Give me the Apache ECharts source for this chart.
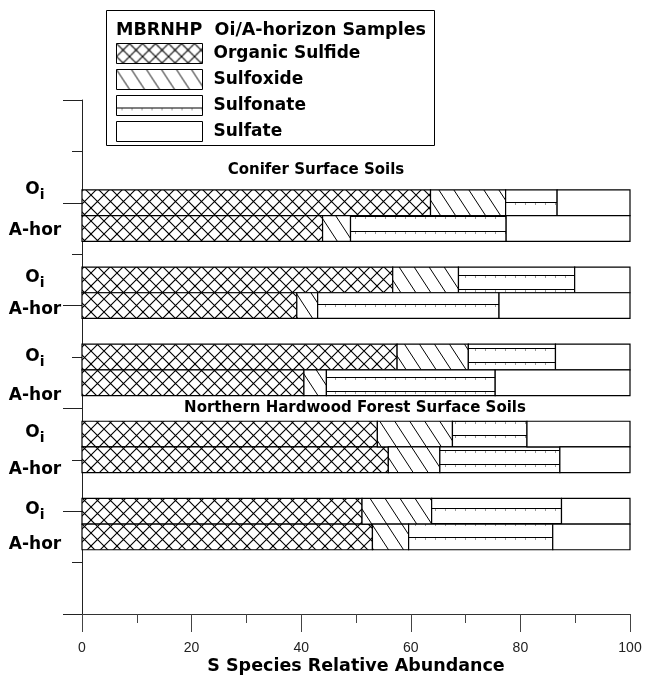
<!DOCTYPE html>
<html><head><meta charset="utf-8">
<script src="https://cdn.jsdelivr.net/npm/echarts@6/dist/echarts.min.js"></script>
<style>html,body{margin:0;padding:0;background:#fff}#c{width:645px;height:675px}</style>
</head><body><div id="c"></div>
<script>
// ---- data ----
const sampleLabels = ['Oi','A-hor','Oi','A-hor','Oi','A-hor','Oi','A-hor','Oi','A-hor'];
const speciesNames = ['Organic Sulfide','Sulfoxide','Sulfonate','Sulfate'];
const organicSulfide = [63.6, 43.9, 56.7, 39.2, 57.5, 40.5, 53.9, 55.9, 51.1, 53.0];
const sulfoxide      = [13.7,  5.1, 12.0,  3.8, 13.0,  4.1, 13.7,  9.4, 12.7,  6.6];
const sulfonate      = [ 9.4, 28.4, 21.2, 33.1, 15.9, 30.8, 13.6, 21.9, 23.7, 26.3];
const sulfate        = [13.3, 22.6, 10.1, 23.9, 13.6, 24.6, 18.8, 12.8, 12.5, 14.1];
const xTickLabels = [0, 20, 40, 60, 80, 100];
const legendTitle = 'MBRNHP  Oi/A-horizon Samples';
const groupTitles = ['Conifer Surface Soils', 'Northern Hardwood Forest Surface Soils'];
const xAxisTitle = 'S Species Relative Abundance';

// ---- patterns ----
function mk(w, h, draw) {
  const c = document.createElement('canvas'); c.width = w; c.height = h;
  const g = c.getContext('2d'); g.fillStyle = '#fff'; g.fillRect(0, 0, w, h);
  draw(g); return c;
}
const patCross = mk(26, 26, g => {
  g.strokeStyle = '#000'; g.lineWidth = 1.1; g.beginPath();
  for (let k = -2; k <= 2; k++) {
    g.moveTo(k * 13, 0); g.lineTo(k * 13 + 26, 26);
    g.moveTo(k * 13 + 26, 0); g.lineTo(k * 13, 26);
  }
  g.stroke();
});
const patDiag = mk(15, 23, g => {
  g.strokeStyle = '#000'; g.lineWidth = 1; g.beginPath();
  for (let k = -1; k <= 1; k++) { g.moveTo(k * 15, 0); g.lineTo(k * 15 + 15, 23); }
  g.stroke();
});
const patHoriz = mk(10, 73, g => {
  [12, 26, 41, 56, 70].forEach(y => {
    g.strokeStyle = '#000'; g.lineWidth = 1; g.beginPath();
    g.moveTo(0, y + 0.5); g.lineTo(10, y + 0.5); g.stroke();
    g.strokeStyle = '#999'; g.beginPath();
    g.moveTo(5.5, y + 1); g.lineTo(5.5, y + 3); g.stroke();
  });
});
const patterns = [
  { image: patCross, repeat: 'repeat' },
  { image: patDiag, repeat: 'repeat' },
  { image: patHoriz, repeat: 'repeat' },
  '#ffffff'
];

// ---- build ----
const speciesValues = [organicSulfide, sulfoxide, sulfonate, sulfate];
const rowY = i => 8 - 1.5 * Math.floor(i / 2) - 0.5 * (i % 2);
const BAR_H = 0.5;
const cum = sampleLabels.map(() => 0);
const series = speciesValues.map((vals, s) => {
  const data = vals.map((v, i) => { const st = cum[i]; cum[i] += v; return [st, cum[i], rowY(i)]; });
  return {
    type: 'custom', name: speciesNames[s], silent: true,
    itemStyle: { color: patterns[s], borderColor: '#000', borderWidth: 1 },
    encode: { x: [0, 1], y: 2 },
    data,
    renderItem: (params, api) => {
      const p0 = api.coord([api.value(0), api.value(2) + BAR_H / 2]);
      const p1 = api.coord([api.value(1), api.value(2) - BAR_H / 2]);
      return { type: 'rect',
        shape: { x: p0[0], y: p0[1], width: p1[0] - p0[0], height: p1[1] - p0[1] },
        style: { fill: patterns[s], stroke: '#000', lineWidth: 1.2 } };
    }
  };
});

const BOLD = 'DejaVu Sans';
const labelY = [190, 231, 278, 310, 357, 396, 433, 470, 510, 545];
const graphic = [
  { type: 'rect', shape: { x: 106.5, y: 10.5, width: 328, height: 135 }, style: { fill: 'none', stroke: '#000', lineWidth: 1 }, z: 1 },
  { type: 'text', x: 316, y: 170, style: { text: groupTitles[0], fontFamily: BOLD, fontWeight: 'bold', fontSize: 15, fill: '#000', align: 'center', verticalAlign: 'middle' } },
  { type: 'text', x: 355, y: 408, style: { text: groupTitles[1], fontFamily: BOLD, fontWeight: 'bold', fontSize: 15, fill: '#000', align: 'center', verticalAlign: 'middle' } }
];
sampleLabels.forEach((lab, i) => {
  const isOi = lab === 'Oi';
  graphic.push({ type: 'text', x: 35, y: labelY[i], style: {
    text: isOi ? '{a|O}{b|i}' : lab,
    fontFamily: BOLD, fontWeight: 'bold', fontSize: 17, fill: '#000', align: 'center', verticalAlign: 'middle',
    rich: { a: { fontFamily: BOLD, fontWeight: 'bold', fontSize: 17, lineHeight: 24, verticalAlign: 'middle' },
            b: { fontFamily: BOLD, fontWeight: 'bold', fontSize: 14, lineHeight: 14, verticalAlign: 'bottom' } }
  } });
});

const chart = echarts.init(document.getElementById('c'), null, { renderer: 'canvas' });
chart.setOption({
  animation: false,
  backgroundColor: '#fff',
  title: { text: legendTitle, left: 116, top: 21, padding: 0,
    textStyle: { fontFamily: BOLD, fontWeight: 'bold', fontSize: 17.5, color: '#000' } },
  legend: { orient: 'vertical', left: 116, top: 43, padding: 0, itemWidth: 86, itemHeight: 20, itemGap: 5,
    icon: 'rect', selectedMode: false, data: speciesNames,
    itemStyle: { borderColor: '#000', borderWidth: 1 },
    textStyle: { fontFamily: BOLD, fontWeight: 'bold', fontSize: 17, color: '#000', lineHeight: 20, padding: [0, 0, 0, 6] } },
  grid: { left: 82, right: 15, top: 100, bottom: 61, containLabel: false, outerBoundsMode: 'none' },
  xAxis: { type: 'value', min: 0, max: 100, interval: 20,
    name: xAxisTitle, nameLocation: 'middle', nameGap: 43, nameMoveOverlap: false,
    nameTextStyle: { fontFamily: BOLD, fontWeight: 'bold', fontSize: 17.5, color: '#000' },
    axisLine: { show: true, lineStyle: { color: '#333', width: 1 } },
    axisTick: { show: true, length: 18, lineStyle: { color: '#444' } },
    minorTick: { show: true, splitNumber: 2, length: 9, lineStyle: { color: '#444' } },
    splitLine: { show: false },
    axisLabel: { margin: 27, fontFamily: 'Liberation Sans', fontSize: 14, color: '#222',
      formatter: v => xTickLabels.includes(v) ? String(v) : '' } },
  yAxis: { type: 'value', min: 0, max: 10, interval: 2,
    axisLine: { show: true, lineStyle: { color: '#222', width: 1 } },
    axisTick: { show: true, length: 19, lineStyle: { color: '#222' } },
    minorTick: { show: true, splitNumber: 2, length: 10, lineStyle: { color: '#222' } },
    splitLine: { show: false }, axisLabel: { show: false } },
  graphic,
  series
});
</script></body></html>
